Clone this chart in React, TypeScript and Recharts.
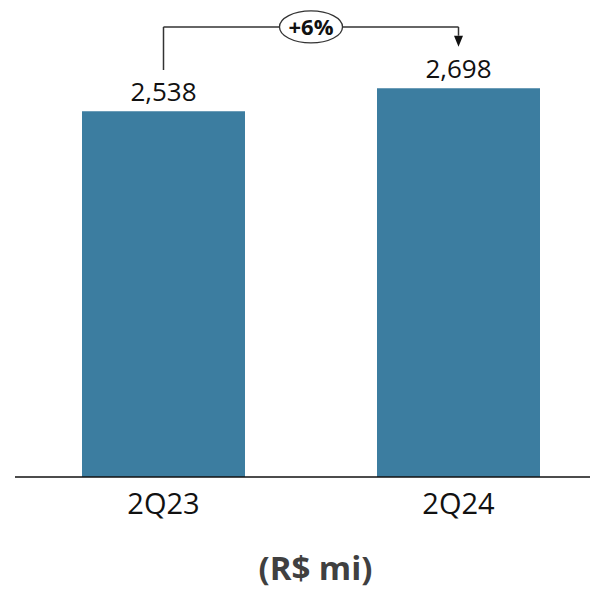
import React from "react";
import {
  BarChart,
  Bar,
  XAxis,
  YAxis,
  LabelList,
  ReferenceLine,
  Label,
} from "recharts";

const categories = ["2Q23", "2Q24"];
const revenue = [2538, 2698];
const growthLabel = "+6%";

const data = categories.map((quarter, i) => ({ quarter, value: revenue[i] }));

// bracket levels (in value units) for the growth callout
const BRACKET_TOP = 3124;
const BRACKET_LEFT_END = 2825;
const ARROW_TIP = 2987;

const FONT = "'Open Sans', 'Noto Sans', sans-serif";
const BAR_COLOR = "#3c7da0";
const LINE_COLOR = "#333333";

const ArrowLine = (props: any) => {
  const { x1, y1, x2, y2 } = props;
  const head = 11;
  const half = 4.5;
  return (
    <g>
      <line x1={x1} y1={y1} x2={x2} y2={y2 - head} stroke={LINE_COLOR} strokeWidth={1.5} />
      <polygon
        points={`${x2 - half},${y2 - head} ${x2 + half},${y2 - head} ${x2},${y2}`}
        fill="#111"
      />
    </g>
  );
};

const GrowthBadge = (props: any) => {
  const { viewBox } = props;
  const cx = viewBox.x + viewBox.width / 2;
  const cy = viewBox.y + viewBox.height / 2;
  return (
    <g>
      <ellipse cx={cx} cy={cy} rx={31.5} ry={16} fill="#fff" stroke={LINE_COLOR} strokeWidth={1.3} />
      <text
        x={cx}
        y={cy}
        dy={8}
        textAnchor="middle"
        fontFamily={FONT}
        fontWeight={700}
        fontSize={22}
        fill="#111"
      >
        {growthLabel}
      </text>
    </g>
  );
};

export default function App() {
  return (
    <div style={{ position: "absolute", left: 0, top: 0, background: "#fff" }}>
      <BarChart
        width={590}
        height={591}
        data={data}
        margin={{ top: 16, right: 0, left: 15, bottom: 0 }}
      >
        <YAxis hide domain={[0, 3200]} />
        <XAxis
          dataKey="quarter"
          height={114}
          padding={{ left: 1, right: -16 }}
          axisLine={{ stroke: "#111", strokeWidth: 1.5 }}
          tickLine={false}
          tickSize={0}
          tickMargin={16}
          tick={{ fill: "#111", fontSize: 29, fontFamily: FONT }}
        >
          <Label
            value="(R$ mi)"
            position="insideBottom"
            offset={11}
            dx={13}
            fill="#404040"
            fontSize={33}
            fontWeight={700}
            fontFamily={FONT}
          />
        </XAxis>
        <Bar dataKey="value" fill={BAR_COLOR} barSize={163} isAnimationActive={false}>
          <LabelList
            dataKey="value"
            position="top"
            offset={10}
            formatter={(v: any) => Number(v).toLocaleString("en-US")}
            fill="#111"
            fontSize={26}
            fontFamily={FONT}
          />
        </Bar>
        <ReferenceLine
          segment={[
            { x: categories[0], y: BRACKET_LEFT_END },
            { x: categories[0], y: BRACKET_TOP },
          ]}
          stroke={LINE_COLOR}
          strokeWidth={1.5}
        />
        <ReferenceLine
          segment={[
            { x: categories[1], y: BRACKET_TOP },
            { x: categories[1], y: ARROW_TIP },
          ]}
          shape={ArrowLine}
        />
        <ReferenceLine
          segment={[
            { x: categories[0], y: BRACKET_TOP },
            { x: categories[1], y: BRACKET_TOP },
          ]}
          stroke={LINE_COLOR}
          strokeWidth={1.5}
          label={<GrowthBadge />}
        />
      </BarChart>
    </div>
  );
}
